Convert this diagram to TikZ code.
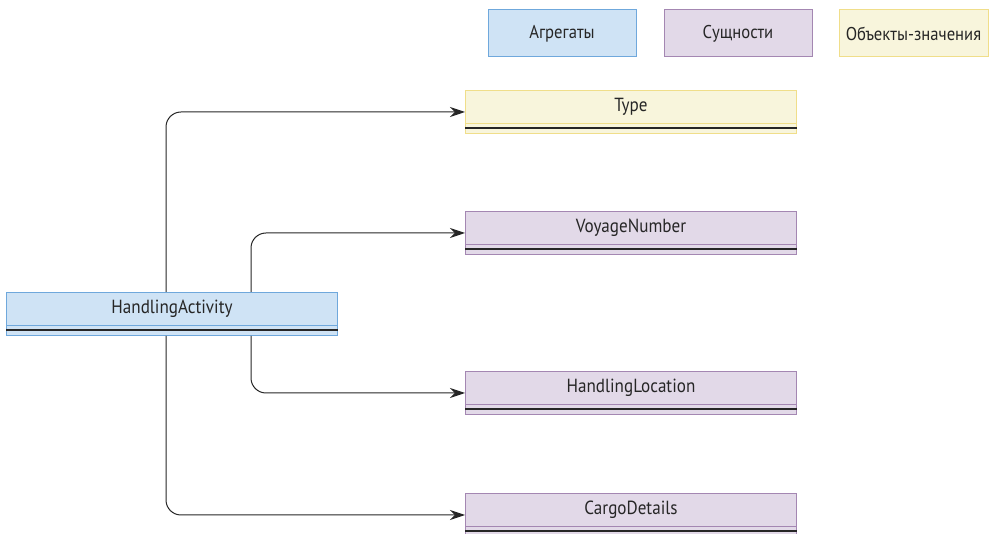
\documentclass[tikz,border=0pt]{standalone}
\usepackage{fontspec}
\setmainfont{PT Sans}[FakeStretch=0.9]
\usetikzlibrary{arrows.meta}

\definecolor{aggFill}{HTML}{CFE3F5}
\definecolor{aggLine}{HTML}{6FA8DC}
\definecolor{entFill}{HTML}{E2D9E8}
\definecolor{entLine}{HTML}{A487B2}
\definecolor{valFill}{HTML}{F8F5DC}
\definecolor{valLine}{HTML}{F0DE8A}
\definecolor{ink}{HTML}{262626}

\tikzset{
  legendbox/.style={draw, line width=1pt, minimum width=148pt, minimum height=47pt,
    inner sep=0pt, font=\fontsize{18.5}{22}\selectfont, text=ink},
  classbox/.style={draw, line width=1pt, minimum width=331pt, minimum height=43pt,
    inner sep=0pt, anchor=north west},
  classtitle/.style={font=\fontsize{19}{22}\selectfont, text=ink},
  conn/.style={draw=ink, line width=1pt, rounded corners=15pt,
    -{Stealth[length=15pt,width=10pt]}},
}

% draws a class box: #1 name, #2 x, #3 y, #4 fill, #5 line, #6 title
\newcommand{\classnode}[6]{%
  \node[classbox, fill=#4, draw=#5] (#1) at (#2,#3) {};
  \draw[#5, line width=1pt] ([yshift=-34pt]#1.north west) -- ([yshift=-34pt]#1.north east);
  \draw[ink, line width=1.1pt] ([yshift=-38pt]#1.north west) -- ([yshift=-38pt]#1.north east);
  \node[classtitle] (#1-t) at ([yshift=-17pt]#1.north) {#6};
}

\begin{document}
\begin{tikzpicture}[x=1pt, y=-1pt]
  \useasboundingbox (0,0) rectangle (989,534);

  % legend
  \node[legendbox, fill=aggFill, draw=aggLine] (lagg) at (562,33.5) {Агрегаты};
  \node[legendbox, fill=entFill, draw=entLine] (lent) at (738,33.5) {Сущности};
  \node[legendbox, fill=valFill, draw=valLine, minimum width=149pt] (lval) at (913.5,33.5) {Объекты-значения};

  % classes
  \classnode{ha}{6}{292}{aggFill}{aggLine}{HandlingActivity}
  \classnode{type}{465}{90}{valFill}{valLine}{Type}
  \classnode{voy}{465}{211}{entFill}{entLine}{VoyageNumber}
  \classnode{loc}{465}{371}{entFill}{entLine}{HandlingLocation}
  \classnode{cargo}{465}{493}{entFill}{entLine}{CargoDetails}

  % associations
  \coordinate (ta) at (166,0);
  \coordinate (tb) at (251,0);
  \draw[conn] (ha.north -| ta) |- (type.west);
  \draw[conn] (ha.north -| tb) |- (voy.west);
  \draw[conn] (ha.south -| tb) |- (loc.west);
  \draw[conn] (ha.south -| ta) |- (cargo.west);
\end{tikzpicture}
\end{document}
